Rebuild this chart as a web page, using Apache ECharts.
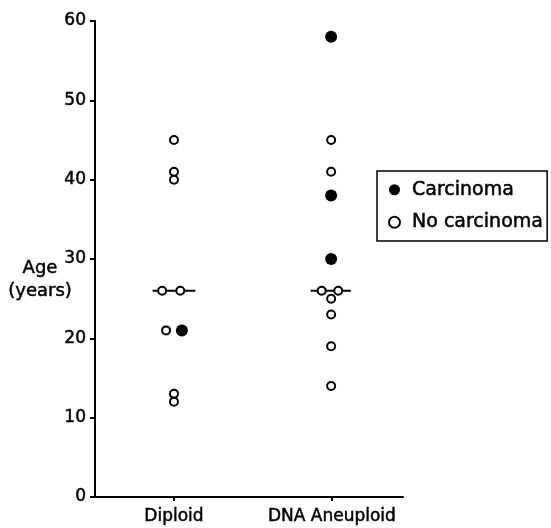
<!DOCTYPE html>
<html><head><meta charset="utf-8">
<script src="https://cdn.jsdelivr.net/npm/echarts@6/dist/echarts.min.js"></script>
<style>html,body{margin:0;padding:0;background:#fff}#c{width:551px;height:528px}</style>
</head><body><div id="c"></div>
<script>
const categories = ['Diploid', 'DNA Aneuploid'];
const categoryPos = [1, 3];
const yTicks = [0, 10, 20, 30, 40, 50, 60];
// [x position (category index with jitter), age]
const carcinoma = [[1.1, 21], [2.99, 58], [2.99, 38], [2.99, 30]];
const noCarcinoma = [
  [1.0, 45], [1.0, 41], [1.0, 40], [0.85, 26], [1.08, 26], [0.9, 21], [1.0, 13], [1.0, 12],
  [2.99, 45], [2.99, 41], [2.87, 26], [3.08, 26], [2.99, 25], [2.99, 23], [2.99, 19], [2.99, 14]
];
const medians = [[0.73, 1.27, 26], [2.73, 3.24, 26]];

const FONT = 'DejaVu Sans';
const BOLDEN = {textBorderColor: '#000', textBorderWidth: 0.5};
const chart = echarts.init(document.getElementById('c'), null, {renderer: 'canvas'});
const medianSeries = medians.map(m => ({
  type: 'line', data: [[m[0], m[2]], [m[1], m[2]]], symbol: 'none', silent: true,
  lineStyle: {color: '#000', width: 2, opacity: 1}, z: 1, animation: false
}));
chart.setOption({
  animation: false,
  backgroundColor: '#fff',
  grid: {left: 95, right: 148, top: 21, bottom: 31, containLabel: false},
  xAxis: {
    type: 'value', min: 0, max: 3.9,
    axisLine: {show: true, lineStyle: {color: '#000', width: 2}},
    axisTick: {show: true, customValues: categoryPos, length: 4, lineStyle: {color: '#000', width: 2}},
    axisLabel: Object.assign({customValues: categoryPos, margin: 11, color: '#000', fontFamily: FONT, fontSize: 17,
      formatter: v => categories[categoryPos.indexOf(Math.round(v))] || ''}, BOLDEN),
    splitLine: {show: false}
  },
  yAxis: {
    type: 'value', min: yTicks[0], max: yTicks[yTicks.length - 1], interval: 10,
    axisLine: {show: true, lineStyle: {color: '#000', width: 2}},
    axisTick: {show: true, length: 5, lineStyle: {color: '#000', width: 2}},
    axisLabel: Object.assign({margin: 9, color: '#000', fontFamily: FONT, fontSize: 17}, BOLDEN),
    splitLine: {show: false}
  },
  legend: {
    orient: 'vertical', left: 377, top: 171,
    padding: [9, 4, 9, 11], itemGap: 13,
    borderColor: '#000', borderWidth: 1.5,
    itemWidth: 11, itemHeight: 11,
    textStyle: Object.assign({fontFamily: FONT, fontSize: 19, color: '#000', padding: [0, 0, 0, 7]}, BOLDEN),
    data: [{name: 'Carcinoma', icon: 'circle'}, {name: 'No carcinoma', icon: 'circle'}]
  },
  graphic: [{
    type: 'text', x: 40, y: 257,
    style: {text: 'Age\n(years)', font: '18px "DejaVu Sans"', fill: '#000', align: 'center', lineHeight: 23,
      stroke: '#000', lineWidth: 0.5}
  }],
  series: [
    ...medianSeries,
    {name: 'No carcinoma', type: 'scatter', data: noCarcinoma, symbol: 'circle', symbolSize: 8,
      itemStyle: {color: '#fff', borderColor: '#000', borderWidth: 2, opacity: 1}, z: 3},
    {name: 'Carcinoma', type: 'scatter', data: carcinoma, symbol: 'circle', symbolSize: 12,
      itemStyle: {color: '#000', borderColor: '#000', borderWidth: 0, opacity: 1}, z: 3}
  ]
});
</script></body></html>
